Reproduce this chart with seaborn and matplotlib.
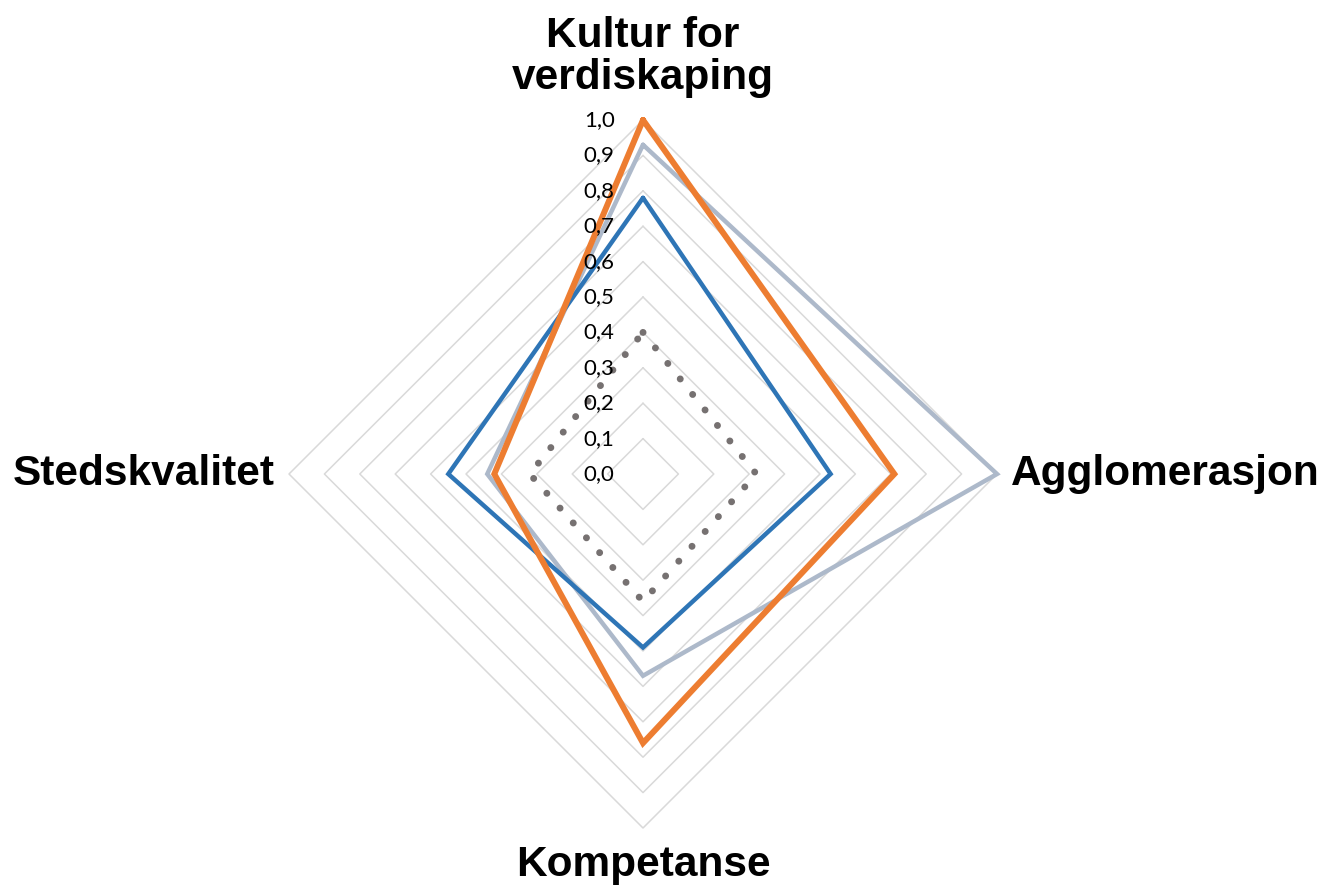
import numpy as np
import matplotlib
matplotlib.use("Agg")
import matplotlib.pyplot as plt
import seaborn as sns

categories = ["Kultur for\nverdiskaping", "Agglomerasjon", "Kompetanse", "Stedskvalitet"]
series_blue = [0.78, 0.53, 0.49, 0.55]
series_orange = [1.00, 0.71, 0.76, 0.42]
series_grey = [0.93, 1.00, 0.57, 0.44]
series_dotted = [0.40, 0.32, 0.36, 0.32]
tick_values = [0.0, 0.1, 0.2, 0.3, 0.4, 0.5, 0.6, 0.7, 0.8, 0.9, 1.0]
tick_labels = ["0,0", "0,1", "0,2", "0,3", "0,4", "0,5", "0,6", "0,7", "0,8", "0,9", "1,0"]

sns.set_theme(style="white")
plt.rcParams['font.family'] = ['Liberation Sans', 'DejaVu Sans']
plt.rcParams['text.color'] = 'black'

W, H = 1327, 886
cx, cy, R = 643, 474, 354
fig = plt.figure(figsize=(W / 100, H / 100), dpi=100)
ax = fig.add_axes([0, 0, 1, 1])
ax.set_xlim(-cx / R, (W - cx) / R)
ax.set_ylim(-(H - cy) / R, cy / R)
ax.axis("off")

n = len(categories)
angles = np.arange(n) * 2 * np.pi / n  # clockwise from top


def xy(vals):
    v = np.asarray(list(vals) + [vals[0]], dtype=float)
    a = np.append(angles, angles[0])
    return v * np.sin(a), v * np.cos(a)


# grid polygons
for t in tick_values[1:]:
    gx, gy = xy([t] * n)
    ax.plot(gx, gy, color="#D9D9D9", lw=1.1, zorder=1)

styles = [
    (series_grey, dict(color="#ADB9CA", lw=3.2)),
    (series_blue, dict(color="#2E75B6", lw=3.2)),
    (series_orange, dict(color="#ED7D31", lw=4.3)),
]
for vals, st in styles:
    px, py = xy(vals)
    sns.lineplot(x=px, y=py, sort=False, estimator=None, ax=ax, zorder=3,
                 solid_joinstyle="miter", **st)

px, py = xy(series_dotted)
ax.plot(px, py, color="#767171", lw=5.0, linestyle=(0, (0.01, 2.85)),
        dash_capstyle="round", zorder=3)

# tick labels
for t, lab in zip(tick_values, tick_labels):
    ax.text(-0.08, t, lab, ha="right", va="center", fontsize=16,
            family=["Lato", "DejaVu Sans"], color="black", zorder=4)

# category labels
fs = 30.5
ax.text(0, 1.062, categories[0], ha="center", va="bottom", fontsize=fs,
        fontweight="bold", linespacing=1.07, color="black")
ax.text(1.04, 0, categories[1], ha="left", va="center", fontsize=fs,
        fontweight="bold", color="black")
ax.text(0, -1.048, categories[2], ha="center", va="top", fontsize=fs,
        fontweight="bold", color="black")
ax.text(-1.04, 0, categories[3], ha="right", va="center", fontsize=fs,
        fontweight="bold", color="black")

fig.savefig("out.png", dpi=100)
